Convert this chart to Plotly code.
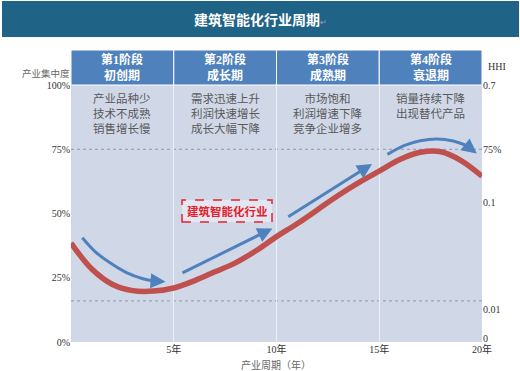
import plotly.graph_objects as go

# ---------------- data ----------------
years = [0, 1, 2, 3, 4, 5, 6, 7, 8, 9, 10, 11, 12, 13, 14, 15, 16, 17, 18, 19, 20]
concentration = [38.5, 28.5, 22.5, 20.0, 19.8, 21.0, 23.8, 27.3, 30.8, 35.5, 41.0,
                 46.0, 51.5, 57.0, 62.0, 66.5, 71.0, 73.8, 74.0, 70.5, 64.5]

stage_bounds = [0, 5, 10, 15, 20]
stage_titles = ["第1阶段<br>初创期", "第2阶段<br>成长期", "第3阶段<br>成熟期", "第4阶段<br>衰退期"]
stage_texts = [
    ["产业品种少", "技术不成熟", "销售增长慢"],
    ["需求迅速上升", "利润快速增长", "成长大幅下降"],
    ["市场饱和", "利润增速下降", "竞争企业增多"],
    ["销量持续下降", "出现替代产品"],
]

x_tick_vals = [5, 10, 15, 20]
x_tick_text = ["5年", "10年", "15年", "20年"]
left_tick_vals = [0, 25, 50, 75, 100]
left_tick_text = ["0%", "25%", "50%", "75%", "100%"]
hhi_tick_vals = [100, 75, 54.3, 12.5, 1.5]
hhi_tick_text = ["0.7", "75%", "0.1", "0.01", "0"]
ref_levels = [75, 16]

# trend arrows (decorative paths in data units)
arrow1_x = [0.55, 1.2, 1.9, 2.7, 3.5, 4.1]
arrow1_y = [40.6, 35.0, 30.8, 27.0, 24.6, 23.7]
arrow1_tip = (4.6, 23.4)
arrow2 = ((5.35, 26.6), (9.8, 44.2))
arrow3 = ((10.5, 48.4), (14.65, 69.3))
arrow4_x = [15.4, 16.2, 17.0, 17.8, 18.6, 19.25]
arrow4_y = [73.0, 76.4, 78.3, 79.0, 78.2, 76.4]
arrow4_tip = (19.75, 73.3)

label_text = "建筑智能化行业"
title_text = "建筑智能化行业周期"

# ---------------- layout helpers ----------------
W, H = 520, 371
L, R, T, B = 71, 482, 85, 342


def px(xp):
    return (xp - L) / (R - L)


def py(yp):
    return (B - yp) / (B - T)


BLUE = "#4F81BD"
RED = "#C0504D"
BG = "#D0D8E8"
CJK = "Noto Sans CJK SC"
SERIF = "Liberation Serif, Noto Sans CJK SC"

fig = go.Figure()

fig.add_trace(go.Scatter(x=years, y=concentration, mode="lines",
                         line=dict(color=RED, width=5.5, shape="spline", smoothing=1.0),
                         hoverinfo="skip", showlegend=False))

for xs, ys in [(arrow1_x, arrow1_y), (arrow4_x, arrow4_y)]:
    fig.add_trace(go.Scatter(x=xs, y=ys, mode="lines",
                             line=dict(color=BLUE, width=3, shape="spline"),
                             hoverinfo="skip", showlegend=False))

# secondary axis for HHI labels
fig.add_trace(go.Scatter(x=[0], y=[0], yaxis="y2", mode="markers",
                         marker=dict(opacity=0), hoverinfo="skip", showlegend=False))

annotations = []
arrow_specs = [
    ((arrow1_x[-1], arrow1_y[-1]), arrow1_tip),
    arrow2,
    arrow3,
    ((arrow4_x[-1], arrow4_y[-1]), arrow4_tip),
]
for (sx, sy), (tx, ty) in arrow_specs:
    annotations.append(dict(x=tx, y=ty, ax=sx, ay=sy, xref="x", yref="y", axref="x", ayref="y",
                            text="", showarrow=True, arrowhead=2, arrowsize=1, arrowwidth=3,
                            arrowcolor=BLUE, standoff=0, startstandoff=0))


def note(x, y, text, size, color, family=CJK, xanchor="center", xref="paper", yanchor="middle"):
    annotations.append(dict(xref=xref, yref="paper", x=x, y=y, text=text, showarrow=False,
                            xanchor=xanchor, yanchor=yanchor,
                            font=dict(family=family, size=size, color=color)))


shapes = []
# title bar
shapes.append(dict(type="rect", xref="paper", yref="paper", x0=px(2), x1=px(519), y0=py(37), y1=py(1),
                   fillcolor="#1F6386", line=dict(width=0), layer="below"))
note(px(260), py(19),
     "<b>" + title_text + "</b><span style='font-size:8px;color:#9aa5b5'>↵</span>", 14, "white")

# header row
head_top = py(50)
for i, ttl in enumerate(stage_titles):
    x0, x1 = stage_bounds[i], stage_bounds[i + 1]
    shapes.append(dict(type="rect", xref="x", yref="paper", x0=x0, x1=x1, y0=1.0, y1=head_top,
                       fillcolor=BLUE, line=dict(color="white", width=1)))
    note((x0 + x1) / 2, (1.0 + head_top) / 2, "<b>" + ttl + "</b>", 12, "white",
         family=SERIF, xref="x")
    note((x0 + x1) / 2, py(88), "<br>".join(stage_texts[i]), 11.5, "#595959",
         xref="x", yanchor="top")

# dotted reference lines
for lv in ref_levels:
    shapes.append(dict(type="line", xref="x", yref="y", x0=0, x1=20, y0=lv, y1=lv,
                       line=dict(color="#8e97ae", width=1, dash="dot"), layer="below"))

# label box
shapes.append(dict(type="rect", xref="paper", yref="paper", x0=px(182), x1=px(272), y0=py(222), y1=py(200),
                   fillcolor="rgba(240,242,248,0.6)", line=dict(color="#E8202A", width=1.5, dash="dash")))
note(px(227), py(211), "<b>" + label_text + "</b>", 11.5, "#E8202A")

# axis titles
note(px(72), py(73), "产业集中度", 9.5, "#666666", xanchor="right")
note(px(276), py(364), "产业周期（年）", 10, "#666666")
note(px(486), py(66), "HHI", 10, "#333333", family=SERIF, xanchor="left")

fig.update_layout(
    width=W, height=H,
    margin=dict(l=L, r=W - R, t=T, b=H - B, pad=0),
    paper_bgcolor="white", plot_bgcolor=BG,
    showlegend=False,
    xaxis=dict(range=[0, 20], tickvals=x_tick_vals, ticktext=x_tick_text, showgrid=True,
               gridcolor="#EEF1F7", gridwidth=1, zeroline=False, showline=False, ticks="",
               tickfont=dict(family=SERIF, size=10, color="#333333"), fixedrange=True),
    yaxis=dict(range=[0, 100], tickvals=left_tick_vals, ticktext=left_tick_text, showgrid=False,
               zeroline=False, showline=False, ticks="",
               tickfont=dict(family=SERIF, size=10, color="#333333"), fixedrange=True),
    yaxis2=dict(range=[0, 100], overlaying="y", side="right", tickvals=hhi_tick_vals,
                ticktext=hhi_tick_text, showgrid=False, zeroline=False, showline=False, ticks="",
                tickfont=dict(family=SERIF, size=10, color="#333333"), fixedrange=True),
    shapes=shapes, annotations=annotations,
)

fig.write_html("out.html")
